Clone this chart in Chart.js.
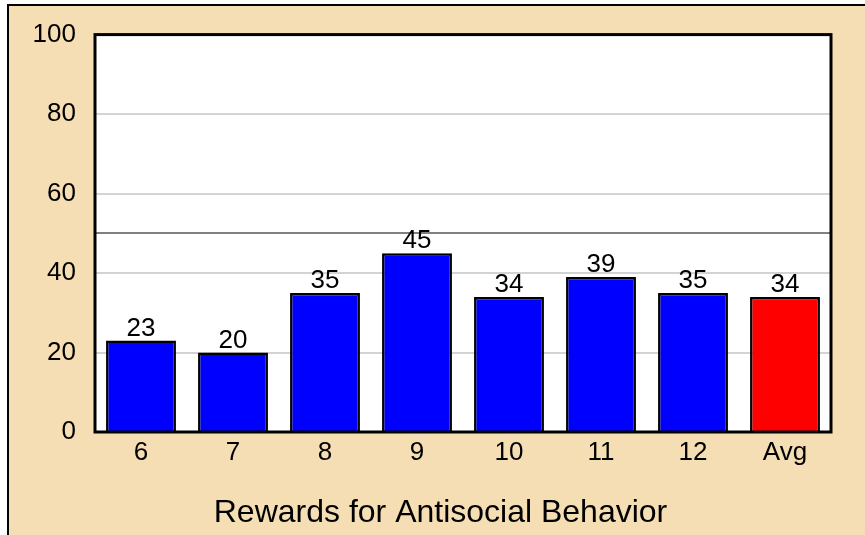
<!DOCTYPE html>
<html>
<head>
<meta charset="utf-8">
<script src="https://cdn.jsdelivr.net/npm/chart.js@4.4.0/dist/chart.umd.min.js"></script>
<style>
html,body{margin:0;padding:0;background:#fff;}
#wrap{position:absolute;left:0;top:0;width:865px;height:535px;}
</style>
</head>
<body>
<div id="wrap"><canvas id="c" width="865" height="535"></canvas></div>
<script>
const categories = ['6', '7', '8', '9', '10', '11', '12', 'Avg'];
const values = [23, 20, 35, 45, 34, 39, 35, 34];
const barColors = ['#0000FF', '#0000FF', '#0000FF', '#0000FF', '#0000FF', '#0000FF', '#0000FF', '#FF0000'];
const yTickValues = [0, 20, 40, 50, 60, 80, 100];
const yLabelValues = [0, 20, 40, 60, 80, 100];
const xTitle = 'Rewards for Antisocial Behavior';

const FONT = "'Liberation Sans', Arial, sans-serif";

const framePlugin = {
  id: 'frame',
  beforeDraw(chart) {
    const ctx = chart.ctx;
    const a = chart.chartArea;
    ctx.save();
    ctx.fillStyle = '#ffffff';
    ctx.fillRect(0, 0, chart.width, chart.height);
    ctx.fillStyle = '#F5DEB3';
    ctx.fillRect(8, 5, chart.width, chart.height);
    ctx.strokeStyle = '#000';
    ctx.lineWidth = 2;
    ctx.beginPath();
    ctx.moveTo(8, chart.height + 5);
    ctx.lineTo(8, 5);
    ctx.lineTo(chart.width + 5, 5);
    ctx.stroke();
    ctx.fillStyle = '#ffffff';
    ctx.fillRect(a.left, a.top, a.right - a.left, a.bottom - a.top);
    ctx.restore();
  },
  afterDraw(chart) {
    const ctx = chart.ctx;
    const a = chart.chartArea;
    ctx.save();
    ctx.strokeStyle = '#000';
    ctx.lineWidth = 3;
    ctx.strokeRect(a.left, a.top, a.right - a.left, a.bottom - a.top);
    // value labels
    const meta = chart.getDatasetMeta(0);
    ctx.fillStyle = '#000';
    ctx.font = '26px ' + FONT;
    ctx.textAlign = 'center';
    ctx.textBaseline = 'alphabetic';
    meta.data.forEach((bar, i) => {
      ctx.fillText(String(values[i]), bar.x, bar.y - 5);
    });
    // axis title
    ctx.font = '32px ' + FONT;
    ctx.fillText(xTitle, 440.5, 522);
    ctx.restore();
  }
};

new Chart(document.getElementById('c'), {
  type: 'bar',
  data: {
    labels: categories,
    datasets: [{
      data: values,
      backgroundColor: barColors,
      borderColor: '#000',
      borderWidth: 2.5,
      barPercentage: 0.76,
      categoryPercentage: 1.0
    }]
  },
  options: {
    responsive: false,
    animation: false,
    devicePixelRatio: 1,
    layout: { padding: { top: 32, right: 34, left: 0, bottom: 0 } },
    plugins: { legend: { display: false }, tooltip: { enabled: false } },
    scales: {
      x: {
        grid: { display: false, drawTicks: false },
        border: { display: false },
        ticks: { color: '#000', font: { family: FONT, size: 26 }, padding: 5 },
        title: { display: false, text: xTitle },
        afterFit(s) { s.height = 103; }
      },
      y: {
        min: 0, max: 100,
        afterBuildTicks(s) { s.ticks = yTickValues.map(v => ({ value: v })); },
        grid: {
          drawTicks: false,
          lineWidth: 2,
          color: (c) => {
            const v = c.tick ? c.tick.value : null;
            if (v === 50) return '#808080';
            if (v === 0 || v === 100) return 'rgba(0,0,0,0)';
            return '#d3d3d3';
          }
        },
        border: { display: false },
        ticks: {
          color: '#000',
          font: { family: FONT, size: 26 },
          padding: 19,
          callback: (v) => yLabelValues.includes(v) ? String(v) : ''
        },
        afterFit(s) { s.width = 95; }
      }
    }
  },
  plugins: [framePlugin]
});
</script>
</body>
</html>
